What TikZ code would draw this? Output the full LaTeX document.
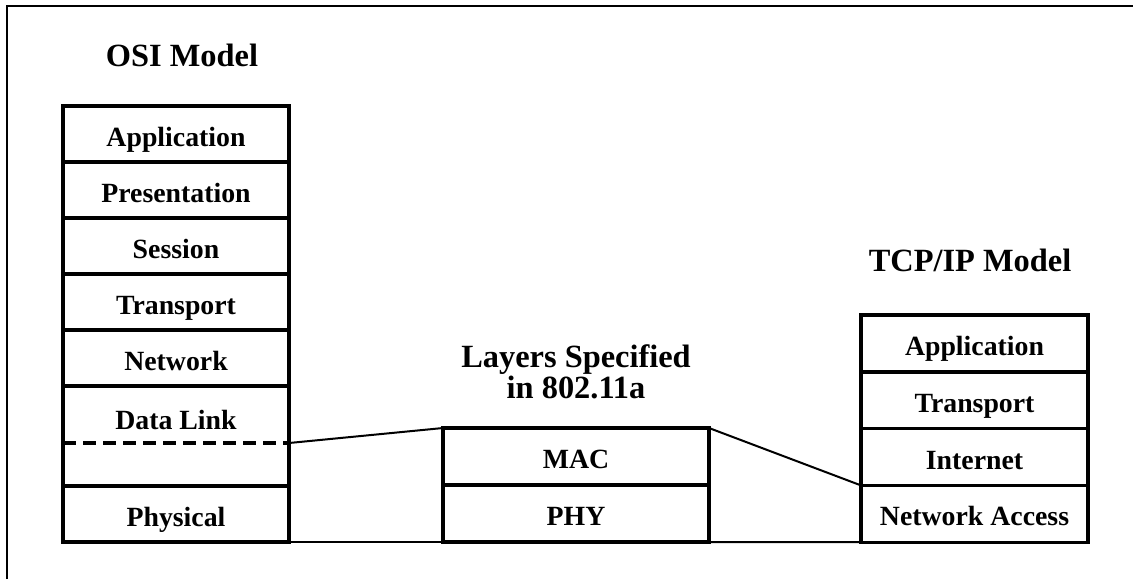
\documentclass[tikz,border=0pt]{standalone}
\usepackage{fontspec}
\setmainfont{Liberation Serif}
\usepackage{tikz}
\usetikzlibrary{positioning}

\tikzset{
  layer/.style={draw, line width=1.7pt, rectangle, inner sep=0pt, outer sep=0pt,
    text height=12pt, text depth=0pt,
    font=\fontsize{13.9}{16}\selectfont\bfseries},
  osilayer/.style={layer, minimum width=113pt, minimum height=28pt},
  maclayer/.style={layer, minimum width=133pt, minimum height=28.5pt},
  tcplayer/.style={layer, minimum width=113.5pt, minimum height=28.4pt},
  title/.style={font=\fontsize{16.2}{14.5}\selectfont\bfseries, align=center},
  link/.style={line width=1pt},
  dashline/.style={line width=1.6pt, dash pattern=on 6.5pt off 3.5pt}
}

\begin{document}
\begin{tikzpicture}[x=0.5pt,y=-0.5pt]
  \useasboundingbox (0,0) rectangle (1133,579);
  % frame (top and left edge only)
  \draw[line width=1pt] (7,579) -- (7,6) -- (1133,6);

  % OSI model
  \node[title] (osititle) at (182,55) {OSI Model};
  \node[osilayer, anchor=north] (app) at (176,106) {Application};
  \node[osilayer, below=0pt of app] (pres) {Presentation};
  \node[osilayer, below=0pt of pres] (sess) {Session};
  \node[osilayer, below=0pt of sess] (trans) {Transport};
  \node[osilayer, below=0pt of trans] (net) {Network};
  \node[osilayer, minimum height=50pt, below=0pt of net] (dlink) {};
  \node[osilayer, below=0pt of dlink] (phys) {Physical};
  \node[layer, draw=none] (dltext) at (176,417) {Data Link};
  \coordinate (split) at (dlink.east |- 0,443);
  \draw[dashline] (dlink.west |- split) -- (split);

  % 802.11a
  \node[title] (wltitle) at (576,372) {Layers Specified\\in 802.11a};
  \node[maclayer, anchor=north] (mac) at (576,428) {MAC};
  \node[maclayer, below=0pt of mac] (phy) {PHY};

  % TCP/IP model
  \node[title] (tcptitle) at (970,260) {TCP/IP Model};
  \node[tcplayer, anchor=north] (tapp) at (974.5,315) {Application};
  \node[tcplayer, below=0pt of tapp] (ttrans) {Transport};
  \node[tcplayer, below=0pt of ttrans] (inet) {Internet};
  \node[tcplayer, below=0pt of inet] (netacc) {Network Access};

  % connectors
  \draw[link] (split) -- (mac.north west);
  \draw[link] (mac.north east) -- (netacc.north west);
  \draw[link] (phys.south east) -- (phy.south west);
  \draw[link] (phy.south east) -- (netacc.south west);
\end{tikzpicture}
\end{document}
